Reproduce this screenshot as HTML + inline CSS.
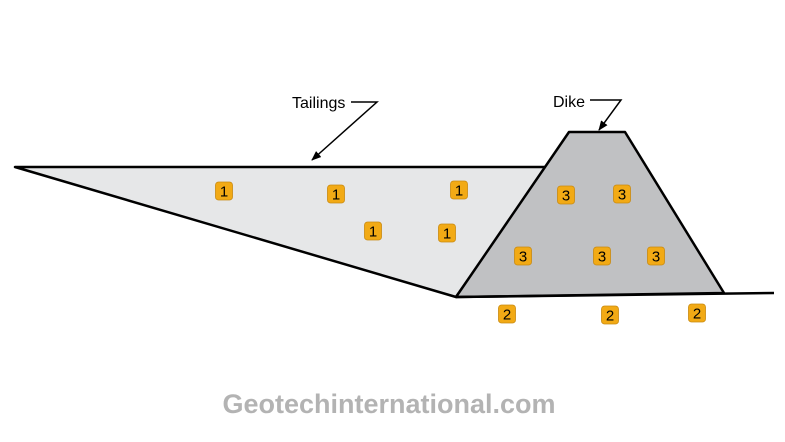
<!DOCTYPE html>
<html><head><style>
html,body{margin:0;padding:0;background:#fff;}
svg{display:block;}
</style></head><body>
<svg width="785" height="442" viewBox="0 0 785 442" xmlns="http://www.w3.org/2000/svg" font-family="Liberation Sans, sans-serif">
<defs>
<marker id="ah" markerWidth="10" markerHeight="8" refX="9" refY="4" orient="auto" markerUnits="userSpaceOnUse">
<path d="M0,0 L10,4 L0,8 Z" fill="#000"/>
</marker>
</defs>
<polygon points="15,167 547,167 456,297" fill="#e6e7e8" stroke="#000" stroke-width="2.5" stroke-linejoin="round"/>
<polygon points="456,297 569,132 625,132 724,293" fill="#c0c1c3" stroke="#000" stroke-width="2.5" stroke-linejoin="round"/>
<line x1="456" y1="297" x2="774" y2="293" stroke="#000" stroke-width="2.5"/>
<text x="292" y="108" font-size="16" fill="#000">Tailings</text>
<polyline points="351,102 377,102 312,160" fill="none" stroke="#000" stroke-width="1.5" marker-end="url(#ah)"/>
<text x="553" y="107" font-size="16" fill="#000">Dike</text>
<polyline points="590,100 621,100 599,130" fill="none" stroke="#000" stroke-width="1.5" marker-end="url(#ah)"/>
<g font-size="15" text-anchor="middle" fill="#000">
<g transform="translate(224,191)"><rect x="-8.5" y="-9" width="17" height="18" rx="3" fill="#f2aa15" stroke="#c98a10" stroke-width="0.8"/><text y="5.5">1</text></g>
<g transform="translate(336,194)"><rect x="-8.5" y="-9" width="17" height="18" rx="3" fill="#f2aa15" stroke="#c98a10" stroke-width="0.8"/><text y="5.5">1</text></g>
<g transform="translate(459,190)"><rect x="-8.5" y="-9" width="17" height="18" rx="3" fill="#f2aa15" stroke="#c98a10" stroke-width="0.8"/><text y="5.5">1</text></g>
<g transform="translate(373,231)"><rect x="-8.5" y="-9" width="17" height="18" rx="3" fill="#f2aa15" stroke="#c98a10" stroke-width="0.8"/><text y="5.5">1</text></g>
<g transform="translate(447,233)"><rect x="-8.5" y="-9" width="17" height="18" rx="3" fill="#f2aa15" stroke="#c98a10" stroke-width="0.8"/><text y="5.5">1</text></g>
<g transform="translate(566,195)"><rect x="-8.5" y="-9" width="17" height="18" rx="3" fill="#f2aa15" stroke="#c98a10" stroke-width="0.8"/><text y="5.5">3</text></g>
<g transform="translate(622,194)"><rect x="-8.5" y="-9" width="17" height="18" rx="3" fill="#f2aa15" stroke="#c98a10" stroke-width="0.8"/><text y="5.5">3</text></g>
<g transform="translate(523,256)"><rect x="-8.5" y="-9" width="17" height="18" rx="3" fill="#f2aa15" stroke="#c98a10" stroke-width="0.8"/><text y="5.5">3</text></g>
<g transform="translate(602,256)"><rect x="-8.5" y="-9" width="17" height="18" rx="3" fill="#f2aa15" stroke="#c98a10" stroke-width="0.8"/><text y="5.5">3</text></g>
<g transform="translate(656,256)"><rect x="-8.5" y="-9" width="17" height="18" rx="3" fill="#f2aa15" stroke="#c98a10" stroke-width="0.8"/><text y="5.5">3</text></g>
<g transform="translate(507,314)"><rect x="-8.5" y="-9" width="17" height="18" rx="3" fill="#f2aa15" stroke="#c98a10" stroke-width="0.8"/><text y="5.5">2</text></g>
<g transform="translate(610,315)"><rect x="-8.5" y="-9" width="17" height="18" rx="3" fill="#f2aa15" stroke="#c98a10" stroke-width="0.8"/><text y="5.5">2</text></g>
<g transform="translate(697,313)"><rect x="-8.5" y="-9" width="17" height="18" rx="3" fill="#f2aa15" stroke="#c98a10" stroke-width="0.8"/><text y="5.5">2</text></g>
</g>
<text x="389" y="413" font-size="27" font-weight="bold" fill="#b3b3b3" text-anchor="middle">Geotechinternational.com</text>
</svg>
</body></html>
